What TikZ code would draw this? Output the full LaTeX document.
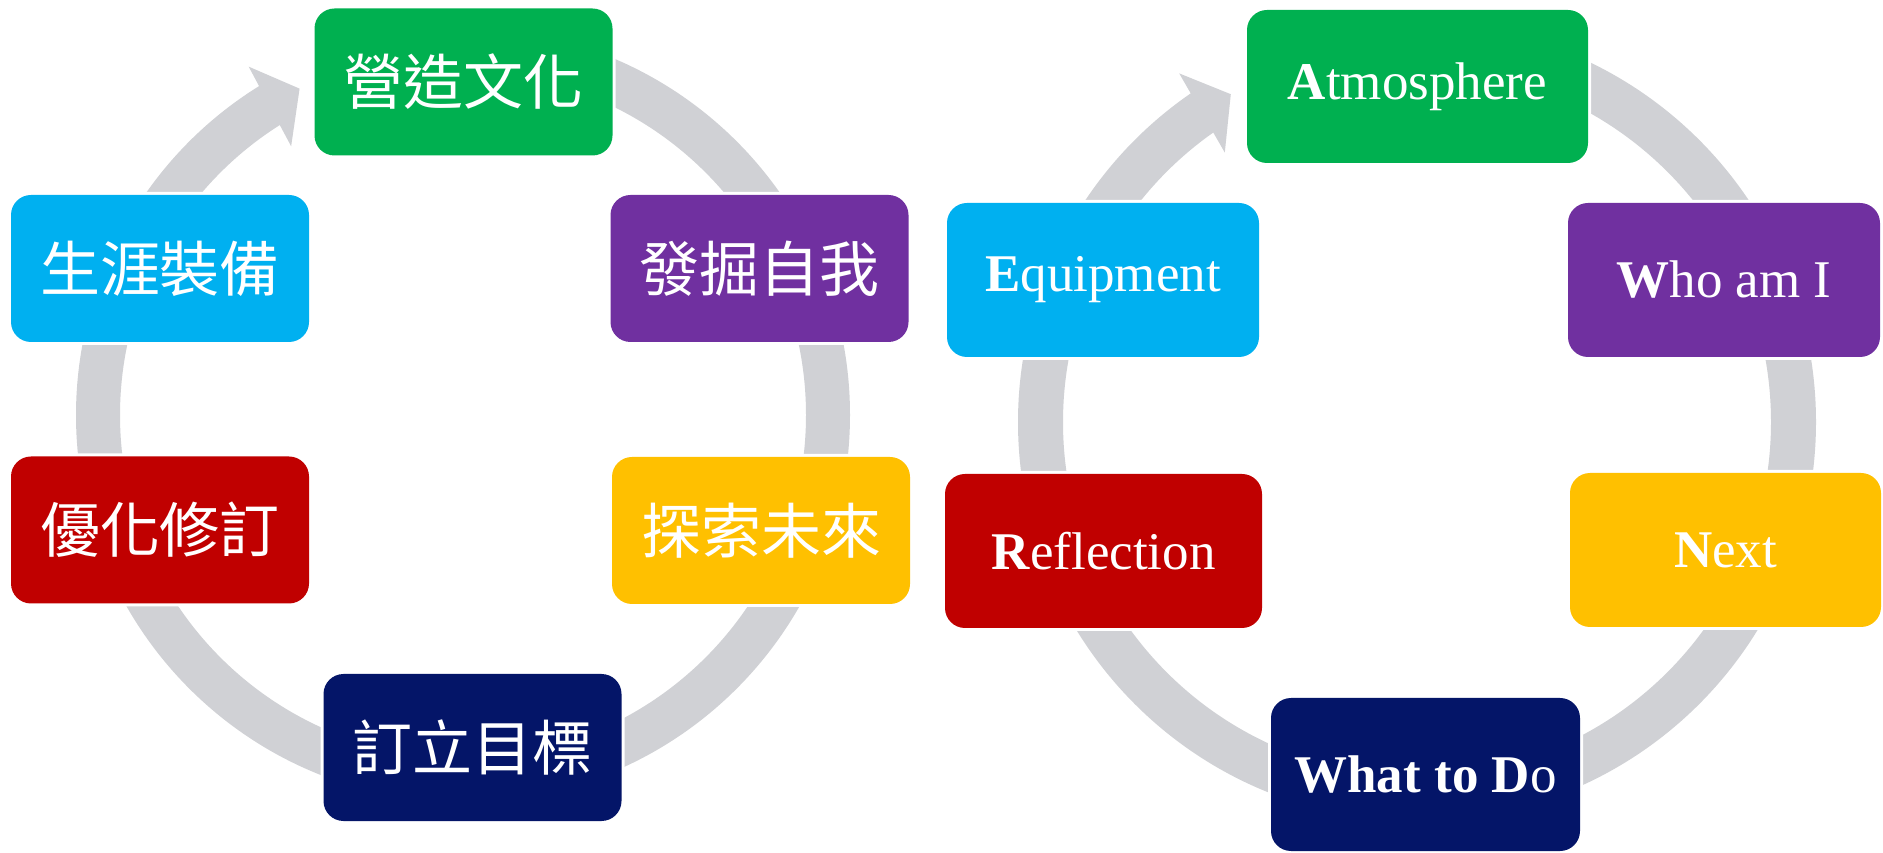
\documentclass[tikz,border=0pt]{standalone}
\usepackage{fontspec}
\setmainfont{Liberation Serif}
\newfontfamily\cjk{Noto Sans CJK TC}
\usetikzlibrary{calc}
\definecolor{ringgray}{RGB}{208,209,213}
\definecolor{cgreen}{RGB}{0,176,80}
\definecolor{cpurple}{RGB}{112,48,160}
\definecolor{cyellow}{RGB}{255,192,0}
\definecolor{cred}{RGB}{192,0,0}
\definecolor{cnavy}{RGB}{4,21,104}
\definecolor{ccyan}{RGB}{0,176,240}
\begin{document}
\begin{tikzpicture}[x=1pt,y=1pt,
  box/.style={rounded corners=20pt, inner sep=0pt, text=white,
    preaction={draw=white, line width=6pt}},
  lbox/.style={box, minimum width=298pt, minimum height=147pt,
    font=\cjk\fontsize{60}{72}\selectfont},
  rbox/.style={box, minimum height=154pt,
    font=\fontsize{53}{64}\selectfont},
  band/.style={draw=ringgray, line cap=butt},
  head/.style={fill=ringgray}
]
\useasboundingbox (0,0) rectangle (1883,852);
\fill[white] (0,0) rectangle (1883,852);

% ---------- left cycle ----------
\coordinate (L) at (463,437);
\draw[band, line width=44pt] ($(L)+(90:365)$) arc[start angle=90, end angle=-238.5, radius=365];
\fill[head] ($(L)+(121.6:409)$) -- ($(L)+(116.6:365)$) -- ($(L)+(122.6:319)$) -- cycle;

\node[lbox, fill=cgreen]  (la) at (463.5,770)   {營造文化};
\node[lbox, fill=cpurple] (lb) at (759.5,583.5) {發掘自我};
\node[lbox, fill=cyellow] (lc) at (761,321.5)   {探索未來};
\node[lbox, fill=cnavy]   (ld) at (472.5,104.5) {訂立目標};
\node[lbox, fill=cred]    (le) at (160,322)     {優化修訂};
\node[lbox, fill=ccyan]   (lf) at (160,583.5)   {生涯裝備};

% ---------- right cycle ----------
\coordinate (R) at (1417,430);
\draw[band, line width=45pt] ($(R)+(90:376.5)$) arc[start angle=90, end angle=-235.7, radius=376.5];
\fill[head] ($(R)+(124.3:422)$) -- ($(R)+(119.6:377)$) -- ($(R)+(125.5:331)$) -- cycle;

\node[rbox, fill=cgreen,  minimum width=341pt, minimum height=153pt] (ra) at (1417.5,765.5) {\textbf{A}tmosphere};
\node[rbox, fill=cpurple, minimum width=312pt] (rb) at (1724,572)   {\textbf{W}ho am I};
\node[rbox, fill=cyellow, minimum width=311pt] (rc) at (1725.5,302) {\textbf{N}ext};
\node[rbox, fill=cnavy,   minimum width=309pt, minimum height=153pt] (rd) at (1425.5,77.5) {\textbf{What to D}o};
\node[rbox, fill=cred,    minimum width=317pt] (re) at (1103.5,301) {\textbf{R}eflection};
\node[rbox, fill=ccyan,   minimum width=312pt] (rf) at (1103,572)   {\textbf{E}quipment};
\end{tikzpicture}
\end{document}
